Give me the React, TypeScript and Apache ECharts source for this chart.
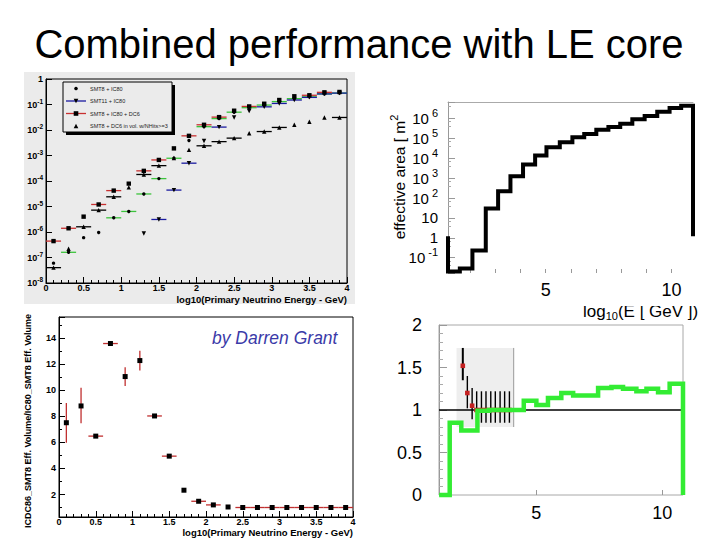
import React, { useEffect, useRef } from 'react';
import * as echarts from 'echarts';

const FONT = '"Liberation Sans", Arial, Helvetica, sans-serif';

const slideTitle = 'Combined performance with LE core';

// ---------- top-left: effective volume vs log10(E) ----------
const tlCenters = [0.1, 0.3, 0.5, 0.7, 0.9, 1.1, 1.3, 1.5, 1.7, 1.9, 2.1, 2.3, 2.5, 2.7, 2.9, 3.1, 3.3, 3.5, 3.7, 3.9];
const tlSmt8Ic80 = [6e-8, 1.6e-7, 6e-7, 9.5e-7, 3.6e-6, 6.4e-6, 3.1e-5, 1.24e-4, 7.8e-4, 3.9e-3, 0.0135, 0.028, 0.05, 0.075, 0.095, 0.13, 0.17, 0.2, 0.26, 0.28];
const tlSmt8Ic80XErr = [0, 0.1, 0, 0, 0.1, 0.1, 0.1, 0.1, 0.1, 0, 0.1, 0.1, 0.1, 0.1, 0.1, 0.1, 0.1, 0.1, 0.1, 0.1];
const tlSmt11Ic80 = [null, null, null, null, null, null, 8.7e-7, 3.1e-6, 4.4e-5, 5e-4, 3.7e-3, 0.013, 0.031, 0.055, 0.081, 0.11, 0.15, 0.19, 0.26, 0.28];
const tlSmt11Ic80XErr = [0, 0, 0, 0, 0, 0, 0, 0.1, 0.1, 0.1, 0, 0.1, 0, 0, 0.1, 0.1, 0.1, 0.1, 0.1, 0.1];
const tlSmt8Ic80Dc6 = [4.4e-7, 1.4e-6, 4e-6, 1.2e-5, 4.2e-5, 7.9e-5, 2.5e-4, 6.7e-4, 1.9e-3, 5.9e-3, 0.016, 0.032, 0.057, 0.084, 0.107, 0.15, 0.21, 0.23, 0.3, 0.31];
const tlSmt8Ic80Dc6XErr = [0.1, 0.1, 0, 0.1, 0.1, 0, 0.1, 0.1, 0, 0.1, 0.1, 0.1, 0, 0.1, 0, 0, 0, 0.1, 0.1, 0];
const tlSmt8Dc6 = [4e-8, 2.2e-7, 1.6e-6, 7.2e-6, 2.4e-5, 5.6e-5, 1.8e-4, 4e-4, 8e-4, 1.66e-3, 2.4e-3, 3.5e-3, 4.8e-3, 7.5e-3, 8.7e-3, 0.0126, 0.016, 0.021, 0.031, 0.031];
const tlSmt8Dc6XErr = [0.1, 0, 0.1, 0.1, 0.1, 0, 0.1, 0.1, 0, 0, 0.1, 0.1, 0.1, 0, 0.1, 0.1, 0, 0, 0, 0.1];
const tlLegendNames = ['SMT8 + IC80', 'SMT11 + IC80', 'SMT8 + IC80 + DC6', 'SMT8 + DC6 in vol. w/NHits>=3'];
const tlXTitle = 'log10(Primary Neutrino Energy - GeV)';

// ---------- bottom-left: ratio of effective volumes ----------
const blCenters = [0.1, 0.3, 0.5, 0.7, 0.9, 1.1, 1.3, 1.5, 1.7, 1.9, 2.1, 2.3, 2.5, 2.7, 2.9, 3.1, 3.3, 3.5, 3.7, 3.9];
const blRatio = [7.52, 8.81, 6.49, 13.61, 11.07, 12.3, 8.04, 4.95, 2.33, 1.48, 1.2, 1.04, 1.0, 1.0, 1.0, 1.0, 1.0, 1.0, 1.0, 1.0];
const blRatioLow = [5.98, 7.47, 6.49, 13.61, 10.35, 11.53, 8.04, 4.95, 2.33, 1.48, 1.2, 1.04, 1.0, 1.0, 1.0, 1.0, 1.0, 1.0, 1.0, 1.0];
const blRatioHigh = [9.04, 10.2, 6.49, 13.61, 11.79, 13.05, 8.04, 4.95, 2.33, 1.48, 1.2, 1.04, 1.0, 1.0, 1.0, 1.0, 1.0, 1.0, 1.0, 1.0];
const blXErr = [0, 0, 0.1, 0.1, 0, 0, 0.1, 0.1, 0, 0.1, 0.1, 0, 0.1, 0.1, 0.1, 0.1, 0.1, 0.1, 0.1, 0.1];
const blYTitle = 'ICDC86_SMT8 Eff. Volume/IC80_SMT8 Eff. Volume';
const blXTitle = 'log10(Primary Neutrino Energy - GeV)';
const blNote = 'by Darren Grant';

// ---------- top-right: effective area histogram ----------
const trEdges = [1.12, 1.59, 2.09, 2.62, 3.11, 3.6, 4.1, 4.58, 5.03, 5.56, 6.06, 6.53, 7.01, 7.49, 7.96, 8.44, 8.93, 9.43, 9.92, 10.38, 10.85];
const trArea = [0.02, 0.029, 0.23, 30, 220, 1260, 4900, 13800, 36000, 65000, 115000, 170000, 280000, 380000, 560000, 930000, 1350000, 2200000, 3400000, 4500000];
const trBase = 1.2;
const trYRange = [0.017, 6.9e6];
const trXRange = [1.12, 10.85];

// ---------- bottom-right: ratio histogram ----------
const brEdges = [1.14, 1.56, 2.02, 2.66, 3.12, 3.6, 4.07, 4.5, 5.0, 5.46, 5.99, 6.46, 6.98, 7.45, 7.98, 8.44, 8.97, 9.37, 9.83, 10.29, 10.82];
const brRatio = [0, 0.85, 0.76, 0.99, 1.0, 1.0, 1.0, 1.11, 1.06, 1.14, 1.2, 1.17, 1.17, 1.26, 1.27, 1.25, 1.22, 1.25, 1.21, 1.31];
const brPointX = [2.08, 2.26, 2.45, 2.63, 2.82, 3.0, 3.19, 3.37, 3.56, 3.74, 3.93];
const brPointY = [1.52, 1.2, 1.05, 1.0, 1.0, 1.0, 1.0, 1.0, 1.0, 1.0, 1.0];
const brPointLow = [1.35, 1.02, 0.89, 0.85, 0.85, 0.85, 0.85, 0.85, 0.85, 0.85, 0.85];
const brPointHigh = [1.73, 1.4, 1.26, 1.22, 1.22, 1.22, 1.22, 1.22, 1.22, 1.22, 1.22];
const brPointXErr = [0, 0, 0, 0.095, 0.095, 0.095, 0.095, 0.095, 0.095, 0.095, 0.095];
const brShadeX = [1.83, 4.1];
const brShadeY = [0.8, 1.73];
const brRefLine = 1;
const brXRange = [1.135, 10.82];

function marker(kind: string, x: number, y: number, s: number, fill = '#000') {
  const h = s / 2;
  if (kind === 'circle') return { type: 'circle', shape: { cx: x, cy: y, r: h }, style: { fill } };
  if (kind === 'square') return { type: 'rect', shape: { x: x - h, y: y - h, width: s, height: s }, style: { fill } };
  if (kind === 'triangleDown')
    return { type: 'polygon', shape: { points: [[x - h, y - h], [x + h, y - h], [x, y + h]] }, style: { fill } };
  return { type: 'polygon', shape: { points: [[x - h, y + h], [x + h, y + h], [x, y - h]] }, style: { fill } };
}

function stepPoints(edges: number[], values: number[], base: number) {
  const pts: number[][] = [[edges[0], base]];
  values.forEach((v, i) => {
    pts.push([edges[i], v], [edges[i + 1], v]);
  });
  pts.push([edges[edges.length - 1], base]);
  return pts;
}

function tlSeries(vals: (number | null)[], errs: number[], kind: string, color: string, size: number) {
  const data = tlCenters.map((c, i) => [c, vals[i], errs[i]]).filter((d) => d[1] != null);
  return {
    type: 'custom',
    xAxisIndex: 0,
    yAxisIndex: 0,
    data,
    encode: { x: 0, y: 1 },
    renderItem: (params: any, api: any) => {
      const x = api.value(0);
      const y = api.value(1);
      const e = api.value(2);
      const p = api.coord([x, y]);
      const children: any[] = [];
      if (e > 0) {
        const a = api.coord([x - e, y]);
        const b = api.coord([x + e, y]);
        children.push({ type: 'line', shape: { x1: a[0], y1: a[1], x2: b[0], y2: b[1] }, style: { stroke: color, lineWidth: 1.3 } });
      }
      children.push(marker(kind, p[0], p[1], size));
      return { type: 'group', children };
    },
  };
}

const axisFont = { fontFamily: FONT, color: '#000' };

function tlYLabel(v: number) {
  const k = Math.round(Math.log10(v));
  return k === 0 ? '1' : '10{s|' + k + '}';
}
function trYLabel(v: number) {
  const k = Math.round(Math.log10(v));
  if (k === 0) return '1';
  if (k === 1) return '10';
  return '10{s|' + k + '}';
}

function buildOption() {
  const legendKinds = ['circle', 'triangleDown', 'square', 'triangleUp'];
  const legendLines = [null, '#1a1aa0', '#c83030', null];
  const legendEls: any[] = [
    { type: 'rect', z: 10, shape: { x: 66, y: 85, width: 109, height: 50 }, style: { fill: '#000' } },
    { type: 'rect', z: 11, shape: { x: 63, y: 82, width: 109, height: 50 }, style: { fill: '#ebebeb', stroke: '#000', lineWidth: 1 } },
  ];
  tlLegendNames.forEach((name, i) => {
    const y = 88.5 + i * 12.5;
    const ln = legendLines[i];
    if (ln) legendEls.push({ type: 'line', z: 12, shape: { x1: 66, y1: y, x2: 86, y2: y }, style: { stroke: ln, lineWidth: 1.3 } });
    legendEls.push({ ...marker(legendKinds[i], 76, y, legendKinds[i] === 'circle' ? 3.6 : 4.6), z: 13 });
    legendEls.push({ type: 'text', z: 13, x: 90, y, style: { text: name, fontSize: 5.5, fontFamily: FONT, fill: '#222', align: 'left', verticalAlign: 'middle' } });
  });

  return {
    animation: false,
    backgroundColor: '#ffffff',
    grid: [
      { left: 46, top: 79, width: 301, height: 204, show: true, borderColor: '#000', borderWidth: 1, backgroundColor: 'transparent', outerBoundsMode: 'none' },
      { left: 59, top: 317, width: 294, height: 200, show: true, borderColor: '#000', borderWidth: 1, backgroundColor: 'transparent', outerBoundsMode: 'none' },
      { left: 448, top: 102, width: 245, height: 171, show: false, outerBoundsMode: 'none' },
      { left: 439, top: 325, width: 244, height: 170, show: true, borderColor: '#a8a8a8', borderWidth: 1, backgroundColor: 'transparent', outerBoundsMode: 'none' },
    ],
    xAxis: [
      {
        type: 'value', gridIndex: 0, min: 0, max: 4, minInterval: 0.5, maxInterval: 0.5,
        axisLine: { show: true, lineStyle: { color: '#000', width: 1 } },
        axisTick: { show: true, inside: true, length: 6, lineStyle: { color: '#000' } },
        minorTick: { show: true, splitNumber: 5, length: 3, lineStyle: { color: '#000' } },
        splitLine: { show: false }, minorSplitLine: { show: false },
        axisLabel: { ...axisFont, margin: 0, fontSize: 9, fontWeight: 'bold' },
      },
      {
        type: 'value', gridIndex: 1, min: 0, max: 4, minInterval: 0.5, maxInterval: 0.5,
        axisLine: { show: true, lineStyle: { color: '#000', width: 1 } },
        axisTick: { show: true, inside: true, length: 6, lineStyle: { color: '#000' } },
        minorTick: { show: true, splitNumber: 5, length: 3, lineStyle: { color: '#000' } },
        splitLine: { show: false }, minorSplitLine: { show: false },
        axisLabel: { ...axisFont, margin: 0, fontSize: 9, fontWeight: 'bold' },
      },
      {
        type: 'value', gridIndex: 2, min: trXRange[0], max: trXRange[1], minInterval: 1, maxInterval: 1,
        axisLine: { show: false },
        axisTick: { show: true, inside: true, length: 4, lineStyle: { color: '#999' } },
        splitLine: { show: false },
        axisLabel: {
          ...axisFont, margin: 8, fontSize: 18, showMinLabel: false, showMaxLabel: false,
          formatter: (v: number) => (v === 5 || v === 10 ? String(v) : ''),
        },
      },
      {
        type: 'value', gridIndex: 3, min: brXRange[0], max: brXRange[1], minInterval: 5, maxInterval: 5,
        axisLine: { show: false },
        axisTick: { show: true, inside: true, length: 5, lineStyle: { color: '#999' } },
        splitLine: { show: false },
        axisLabel: {
          ...axisFont, margin: 9, fontSize: 18, showMinLabel: false, showMaxLabel: false,
          formatter: (v: number) => (v === 5 || v === 10 ? String(v) : ''),
        },
      },
      {
        type: 'value', gridIndex: 2, position: 'top', min: trXRange[0], max: trXRange[1],
        axisLine: { show: true, lineStyle: { color: '#aaa', width: 1 } },
        axisTick: { show: false }, axisLabel: { show: false }, splitLine: { show: false },
      },
    ],
    yAxis: [
      {
        type: 'log', gridIndex: 0, logBase: 10, min: 1e-8, max: 1, splitNumber: 8,
        axisLine: { show: true, lineStyle: { color: '#000', width: 1 } },
        axisTick: { show: true, inside: true, length: 6, lineStyle: { color: '#000' } },
        splitLine: { show: false },
        axisLabel: {
          ...axisFont, margin: 3, fontSize: 9, fontWeight: 'bold', lineHeight: 14, formatter: tlYLabel,
          rich: { s: { fontSize: 6.5, fontWeight: 'bold', fontFamily: FONT, color: '#000', verticalAlign: 'top', lineHeight: 8 } },
        },
      },
      {
        type: 'value', gridIndex: 1, min: 0.27, max: 15.65, minInterval: 2, maxInterval: 2,
        axisLine: { show: true, lineStyle: { color: '#000', width: 1 } },
        axisTick: { show: true, inside: true, length: 6, lineStyle: { color: '#000' } },
        minorTick: { show: true, splitNumber: 2, length: 3, lineStyle: { color: '#000' } },
        splitLine: { show: false }, minorSplitLine: { show: false },
        axisLabel: { ...axisFont, margin: 3, fontSize: 9, fontWeight: 'bold', showMinLabel: false, showMaxLabel: false },
      },
      {
        type: 'log', gridIndex: 2, logBase: 10, min: trYRange[0], max: trYRange[1], splitNumber: 8,
        axisLine: { show: true, lineStyle: { color: '#999', width: 1 } },
        axisTick: { show: true, inside: true, length: 7, lineStyle: { color: '#999' } },
        minorTick: { show: true, splitNumber: 3, length: 3, lineStyle: { color: '#aaa' } },
        splitLine: { show: false }, minorSplitLine: { show: false },
        axisLabel: {
          ...axisFont, margin: 10, fontSize: 15, lineHeight: 22, showMinLabel: false, showMaxLabel: false, formatter: trYLabel,
          rich: { s: { fontSize: 11, fontFamily: FONT, color: '#000', verticalAlign: 'top', lineHeight: 12, padding: [0, 0, 0, 3] } },
        },
      },
      {
        type: 'value', gridIndex: 3, min: 0, max: 2, minInterval: 0.5, maxInterval: 0.5,
        axisLine: { show: true, lineStyle: { color: '#999', width: 1 } },
        axisTick: { show: true, inside: true, length: 8, lineStyle: { color: '#999' } },
        minorTick: { show: true, splitNumber: 5, length: 4, lineStyle: { color: '#aaa' } },
        splitLine: { show: false }, minorSplitLine: { show: false },
        axisLabel: { ...axisFont, margin: 17, fontSize: 18 },
      },
    ],
    series: [
      tlSeries(tlSmt8Dc6, tlSmt8Dc6XErr, 'triangleUp', '#000', 4.4),
      tlSeries(tlSmt8Ic80, tlSmt8Ic80XErr, 'circle', '#3cc43c', 3.4),
      tlSeries(tlSmt11Ic80, tlSmt11Ic80XErr, 'triangleDown', '#1a1aa0', 4.4),
      tlSeries(tlSmt8Ic80Dc6, tlSmt8Ic80Dc6XErr, 'square', '#c83030', 4.4),
      {
        type: 'custom', xAxisIndex: 1, yAxisIndex: 1,
        data: blCenters.map((c, i) => [c, blRatio[i], blRatioLow[i], blRatioHigh[i], blXErr[i]]),
        encode: { x: 0, y: 1 },
        renderItem: (params: any, api: any) => {
          const x = api.value(0), y = api.value(1), lo = api.value(2), hi = api.value(3), e = api.value(4);
          const p = api.coord([x, y]);
          const ch: any[] = [];
          if (hi > lo) {
            const a = api.coord([x, lo]), b = api.coord([x, hi]);
            ch.push({ type: 'line', shape: { x1: a[0], y1: a[1], x2: b[0], y2: b[1] }, style: { stroke: '#c03030', lineWidth: 1.3 } });
          }
          if (e > 0) {
            const a = api.coord([x - e, y]), b = api.coord([x + e, y]);
            ch.push({ type: 'line', shape: { x1: a[0], y1: a[1], x2: b[0], y2: b[1] }, style: { stroke: '#c03030', lineWidth: 1.3 } });
          }
          ch.push(marker('square', p[0], p[1], 5));
          return { type: 'group', children: ch };
        },
      },
      {
        type: 'line', xAxisIndex: 2, yAxisIndex: 2, data: stepPoints(trEdges, trArea, trBase),
        showSymbol: false, symbol: 'none', clip: false, silent: true,
        lineStyle: { color: '#000', width: 4, cap: 'butt', join: 'miter' },
      },
      {
        type: 'custom', xAxisIndex: 3, yAxisIndex: 3,
        data: [[brShadeX[0], brShadeX[1], brShadeY[0], brShadeY[1], brRefLine]],
        encode: { x: [0, 1], y: [2, 3] },
        renderItem: (params: any, api: any) => {
          const tl = api.coord([api.value(0), api.value(3)]);
          const br = api.coord([api.value(1), api.value(2)]);
          const ry = api.coord([api.value(0), api.value(4)])[1];
          const cs = params.coordSys;
          return {
            type: 'group',
            children: [
              { type: 'rect', shape: { x: tl[0], y: tl[1], width: br[0] - tl[0], height: br[1] - tl[1] }, style: { fill: '#eeeeee' } },
              { type: 'line', shape: { x1: br[0], y1: tl[1], x2: br[0], y2: br[1] }, style: { stroke: '#999', lineWidth: 1 } },
              { type: 'line', shape: { x1: cs.x, y1: ry, x2: cs.x + cs.width, y2: ry }, style: { stroke: '#000', lineWidth: 1.5 } },
            ],
          };
        },
      },
      {
        type: 'line', xAxisIndex: 3, yAxisIndex: 3, data: stepPoints(brEdges, brRatio, 0),
        showSymbol: false, symbol: 'none', clip: false, silent: true,
        lineStyle: { color: '#33ec33', width: 4.5, cap: 'butt', join: 'miter' },
      },
      {
        type: 'custom', xAxisIndex: 3, yAxisIndex: 3,
        data: brPointX.map((x, i) => [x, brPointY[i], brPointLow[i], brPointHigh[i], brPointXErr[i]]),
        encode: { x: 0, y: 1 },
        renderItem: (params: any, api: any) => {
          const x = api.value(0), y = api.value(1), lo = api.value(2), hi = api.value(3), e = api.value(4);
          const p = api.coord([x, y]);
          const a = api.coord([x, lo]), b = api.coord([x, hi]);
          const ch: any[] = [
            { type: 'line', shape: { x1: a[0], y1: a[1], x2: b[0], y2: b[1] }, style: { stroke: '#000', lineWidth: params.dataIndex === 0 ? 2 : 1.4 } },
          ];
          if (e > 0) {
            const l = api.coord([x - e, y]), r = api.coord([x + e, y]);
            ch.push({ type: 'line', shape: { x1: l[0], y1: l[1], x2: r[0], y2: r[1] }, style: { stroke: '#c42020', lineWidth: 3.5 } });
          }
          ch.push(marker('square', p[0], p[1], 4.6, '#c42020'));
          return { type: 'group', children: ch };
        },
      },
    ],
    graphic: [
      { type: 'rect', z: -10, shape: { x: 24, y: 72, width: 331, height: 232 }, style: { fill: '#ebebeb' } },
      ...legendEls,
      { type: 'text', z: 10, x: 359, y: 44, style: { text: slideTitle, fontSize: 40, fontFamily: FONT, fill: '#000', align: 'center', verticalAlign: 'middle' } },
      { type: 'text', z: 10, x: 347, y: 299, style: { text: tlXTitle, fontSize: 9.5, fontWeight: 'bold', fontFamily: FONT, fill: '#000', align: 'right', verticalAlign: 'middle' } },
      { type: 'text', z: 10, x: 353, y: 532, style: { text: blXTitle, fontSize: 9.5, fontWeight: 'bold', fontFamily: FONT, fill: '#000', align: 'right', verticalAlign: 'middle' } },
      { type: 'text', z: 10, x: 28, y: 421, rotation: Math.PI / 2, style: { text: blYTitle, fontSize: 9, fontWeight: 'bold', fontFamily: FONT, fill: '#000', align: 'center', verticalAlign: 'middle' } },
      { type: 'text', z: 10, x: 212, y: 338, style: { text: blNote, fontSize: 17.5, fontStyle: 'italic', fontFamily: FONT, fill: '#3a3aa8', align: 'left', verticalAlign: 'middle' } },
      {
        type: 'text', z: 10, x: 399, y: 177, rotation: Math.PI / 2,
        style: {
          text: 'effective area [ m{s|2}', fontSize: 15.5, fontFamily: FONT, fill: '#000', align: 'center', verticalAlign: 'middle', lineHeight: 22,
          rich: { s: { fontSize: 11, fontFamily: FONT, fill: '#000', verticalAlign: 'top', lineHeight: 12 } },
        },
      },
      {
        type: 'text', z: 19, x: 583, y: 311,
        style: {
          text: 'log{b|10}(E [ GeV ])', fontSize: 17, fontFamily: FONT, fill: '#000', align: 'left', verticalAlign: 'middle', lineHeight: 20,
          rich: { b: { fontSize: 11, fontFamily: FONT, fill: '#000', verticalAlign: 'bottom', lineHeight: 12 } },
        },
      },
      { type: 'rect', z: 20, shape: { x: 570, y: 298, width: 140, height: 8 }, style: { fill: '#fff' } },
    ],
  };
}

export default function App() {
  const ref = useRef<HTMLDivElement>(null);
  useEffect(() => {
    if (!ref.current) return;
    const chart = echarts.init(ref.current, undefined, { renderer: 'svg', width: 720, height: 540 });
    chart.setOption(buildOption() as any);
    return () => {
      chart.dispose();
    };
  }, []);
  return <div ref={ref} style={{ position: 'absolute', left: 0, top: 0, width: 720, height: 540, background: '#fff' }} />;
}
